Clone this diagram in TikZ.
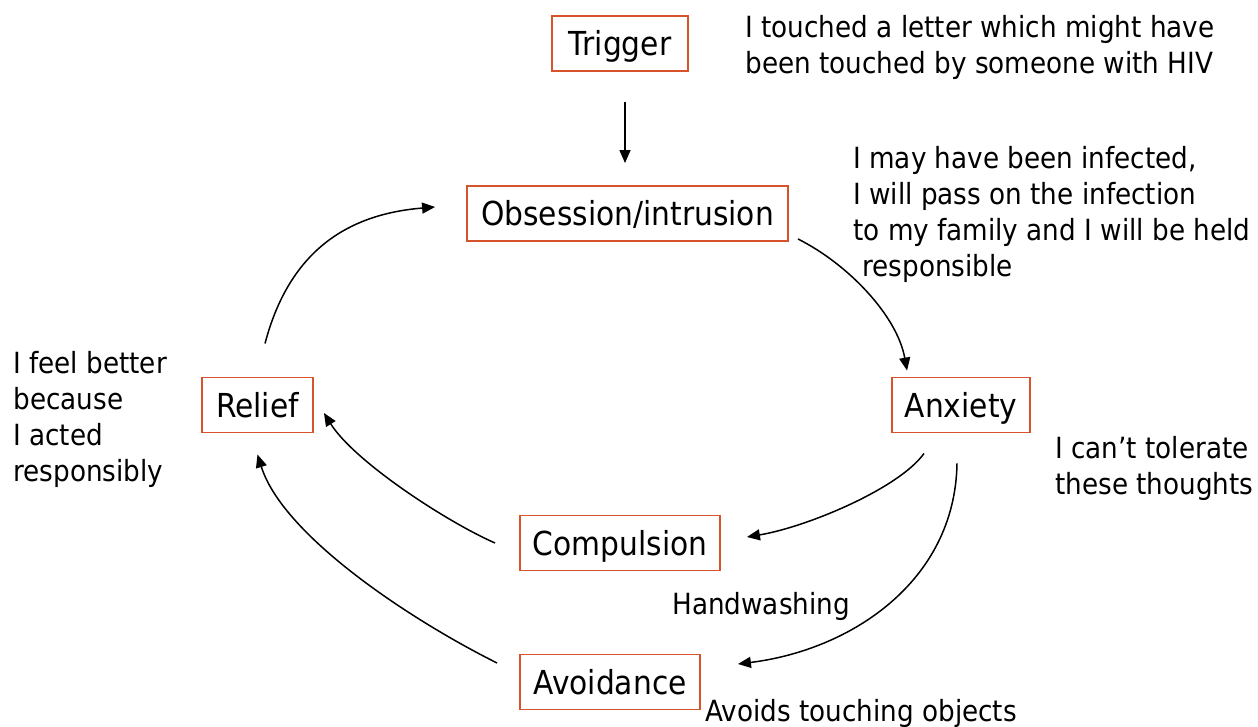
\documentclass[tikz,border=0pt]{standalone}
\usepackage{fontspec}
\setmainfont{DejaVu Sans}[FakeStretch=0.9]
\usepackage{xcolor}
\usepackage{tikz}
\usetikzlibrary{positioning,arrows.meta,calc}
\definecolor{ocdRed}{HTML}{D6532B}

\begin{document}
\begin{tikzpicture}[
  x=0.02cm, y=-0.02cm,
  every node/.style={font=\fontsize{18.8}{22}\selectfont},
  stage/.style={rectangle, draw=ocdRed, line width=1.1pt, minimum height=1.1cm,
                inner sep=0pt, align=center, text height=18pt, text depth=3.8pt},
  note/.style={font=\fontsize{16.6}{20.5}\selectfont, align=left, inner sep=0pt},
  arr/.style={-{Triangle[length=0.26cm, width=0.22cm]}, line width=0.85pt, black}
]
  \useasboundingbox (0,0) rectangle (1258,727);
  \node[stage, minimum width=2.72cm] (trig) at (620,43.5) {Trigger};
  \node[stage, minimum width=6.42cm] (obs) at (627.5,213.5) {Obsession/intrusion};
  \node[stage, minimum width=2.76cm] (anx) at (961,405) {Anxiety};
  \node[stage, minimum width=4.0cm] (comp) at (620,543) {Compulsion};
  \node[stage, minimum width=3.6cm] (avoid) at (610,682) {Avoidance};
  \node[stage, minimum width=2.22cm] (relief) at (257.5,405) {Relief};
  \draw[arr] ($(trig.south)+(5,30)$) -- ($(obs.north)+(-2.5,-22)$);
  \draw[arr] ($(obs.south east)+(9,-3)$) .. controls +(50,25) and +(-10,-55) .. ($(anx.north west)+(16,-6)$);
  \draw[arr] ($(anx.south)+(-37,20)$) .. controls +(-25,35) and +(60,-10) .. ($(comp.east)+(26,-6)$);
  \draw[arr] ($(anx.south)+(-4,30)$) .. controls +(-2,118) and +(113,-14) .. ($(avoid.east)+(37,-18)$);
  \draw[arr] ($(comp.west)+(-24,0)$) .. controls +(-50,-22) and +(30,48) .. ($(relief.east)+(10,8)$);
  \draw[arr] ($(avoid.west)+(-22,-19)$) .. controls +(-90,-45) and +(25,80) .. ($(relief.south)+(0,21)$);
  \draw[arr] ($(relief.north)+(7.5,-33)$) .. controls +(25,-95) and +(-85,7) .. ($(obs.west)+(-31,-6.5)$);
  \node[note, anchor=north west] (trignote) at (745,14.5) {I touched a letter which might have\\been touched by someone with HIV};
  \node[note, anchor=north west] (obsnote) at (853,146) {I may have been infected,\\I will pass on the infection\\to my family and I will be held\\\hspace*{0.18cm}responsible};
  \node[note, anchor=north west] (anxnote) at (1055,436) {I can’t tolerate\\these thoughts};
  \node[note, anchor=north west] (reliefnote) at (13,351) {I feel better\\because\\I acted\\responsibly};
  \node[note, anchor=base west] (compnote) at (672,614) {Handwashing};
  \node[note, anchor=base west] (avoidnote) at (705,721) {Avoids touching objects};
\end{tikzpicture}
\end{document}
